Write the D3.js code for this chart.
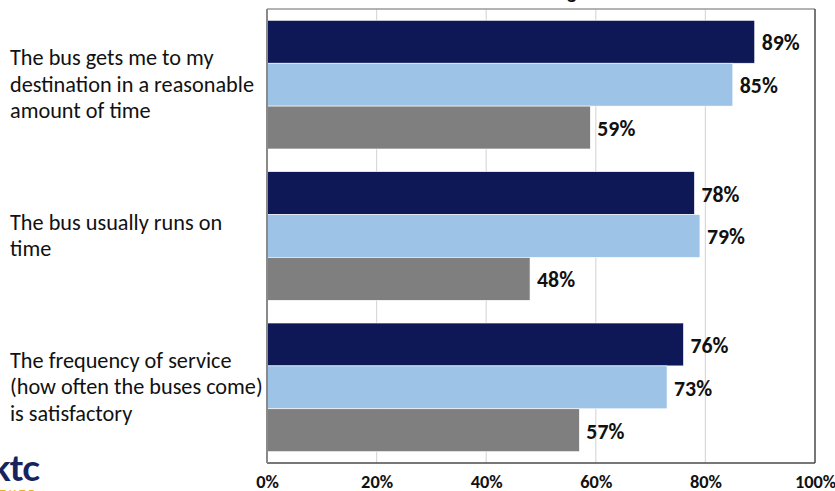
<!DOCTYPE html>
<html>
<head>
<meta charset="utf-8">
<script src="https://cdn.jsdelivr.net/npm/d3@7"></script>
<style>
  html, body { margin: 0; padding: 0; background: #fff; overflow: hidden; }
  svg { display: block; }
</style>
</head>
<body>
<svg id="chart" width="835" height="491"></svg>
<script>
// ---- data ----
const categories = [
  "The bus gets me to my destination in a reasonable amount of time",
  "The bus usually runs on time",
  "The frequency of service (how often the buses come) is satisfactory"
];
const categoryLines = [
  ["The bus gets me to my", "destination in a reasonable", "amount of time"],
  ["The bus usually runs on", "time"],
  ["The frequency of service", "(how often the buses come)", "is satisfactory"]
];
const seriesNames = ["Group A", "Group B", "Group C"];
const seriesA = [89, 78, 76];
const seriesB = [85, 79, 73];
const seriesC = [59, 48, 57];
const tickValues = [0, 20, 40, 60, 80, 100];
const titleText = "Rider Agreement";

// ---- layout / style ----
const W = 835, H = 491;
const plot = { left: 267, right: 815, top: 9, bottom: 463 };
const colors = ["#0E1857", "#9DC3E6", "#7F7F7F"];
const FONT = "Carlito, Lato, 'Open Sans', sans-serif";

const svg = d3.select("#chart");
const seriesValues = [seriesA, seriesB, seriesC];

const x = d3.scaleLinear().domain([0, 100]).range([plot.left, plot.right]);
const y = d3.scaleBand().domain(categories).range([plot.top, plot.bottom])
  .paddingInner(0.15).paddingOuter(0.075);
const ys = d3.scaleBand().domain(seriesNames).range([0, y.bandwidth()]).padding(0);

// gridlines
svg.append("g").selectAll("line").data(tickValues.filter(t => t > 0 && t < 100)).join("line")
  .attr("x1", d => x(d)).attr("x2", d => x(d))
  .attr("y1", plot.top).attr("y2", plot.bottom)
  .attr("stroke", "#d9d9d9").attr("stroke-width", 1.2);

// bars
const groups = svg.append("g").selectAll("g").data(categories).join("g")
  .attr("transform", d => `translate(0,${y(d)})`);

groups.each(function(cat, ci) {
  const g = d3.select(this);
  const rows = seriesNames.map((s, si) => ({ s, si, v: seriesValues[si][ci] }));
  g.selectAll("rect").data(rows).join("rect")
    .attr("x", x(0))
    .attr("y", d => ys(d.s))
    .attr("width", d => x(d.v) - x(0))
    .attr("height", ys.bandwidth())
    .attr("fill", d => colors[d.si])
    .attr("stroke", "#ffffff").attr("stroke-width", 0.6);
  g.selectAll("text.val").data(rows).join("text")
    .attr("class", "val")
    .attr("x", d => x(d.v) + 7)
    .attr("y", d => ys(d.s) + ys.bandwidth() / 2 + 1)
    .attr("dominant-baseline", "central")
    .attr("font-family", FONT).attr("font-weight", "bold")
    .attr("font-size", 19).attr("fill", "#111")
    .text(d => d.v + "%");
});

// plot border
svg.append("line").attr("x1", plot.left).attr("x2", plot.right).attr("y1", plot.top).attr("y2", plot.top)
  .attr("stroke", "#9a9a9a").attr("stroke-width", 1.5);
svg.append("line").attr("x1", plot.right).attr("x2", plot.right).attr("y1", plot.top).attr("y2", plot.bottom)
  .attr("stroke", "#4a4a4a").attr("stroke-width", 1.5);
svg.append("line").attr("x1", plot.left).attr("x2", plot.right).attr("y1", plot.bottom).attr("y2", plot.bottom)
  .attr("stroke", "#4a4a4a").attr("stroke-width", 1.5);
svg.append("line").attr("x1", plot.left).attr("x2", plot.left).attr("y1", plot.top).attr("y2", plot.bottom)
  .attr("stroke", "#8a8a8a").attr("stroke-width", 2);

// x axis tick labels
const xAxis = d3.axisBottom(x).tickValues(tickValues).tickFormat(d => d + "%").tickSize(0).tickPadding(0);
const ax = svg.append("g").attr("transform", `translate(0,${plot.bottom})`).call(xAxis);
ax.select(".domain").remove();
ax.selectAll("text")
  .attr("y", 24.5).attr("dy", null)
  .attr("font-family", FONT).attr("font-weight", "bold")
  .attr("font-size", 17).attr("fill", "#111");

// category labels
const catG = svg.append("g");
const lineH = 26.3;
categories.forEach((c, ci) => {
  const lines = categoryLines[ci];
  const cy = y(c) + y.bandwidth() / 2;
  const firstBase = cy + 7 - (lines.length - 1) / 2 * lineH;
  const t = catG.append("text")
    .attr("font-family", FONT).attr("font-size", 20).attr("fill", "#111");
  lines.forEach((ln, li) => {
    t.append("tspan").attr("x", 10).attr("y", firstBase + li * lineH).text(ln);
  });
});

// fit label fonts so that reference text widths match
(function fit() {
  const probe = svg.append("text").attr("font-family", FONT).attr("font-size", 20)
    .text("destination in a reasonable");
  const w = probe.node().getComputedTextLength();
  probe.remove();
  catG.selectAll("text").attr("font-size", (20 * 244 / w).toFixed(2));

  const p2 = svg.append("text").attr("font-family", FONT).attr("font-weight", "bold").attr("font-size", 19).text("89%");
  const w2 = p2.node().getComputedTextLength();
  p2.remove();
  svg.selectAll("text.val").attr("font-size", (19 * 38 / w2).toFixed(2));

  const p3 = svg.append("text").attr("font-family", FONT).attr("font-weight", "bold").attr("font-size", 17).text("60%");
  const w3 = p3.node().getComputedTextLength();
  p3.remove();
  ax.selectAll("text").attr("font-size", (17 * 32 / w3).toFixed(2));
})();

// title (mostly above the visible area)
const title = svg.append("text")
  .attr("font-family", FONT).attr("font-weight", "bold").attr("font-size", 20)
  .attr("fill", "#111").attr("x", 0).attr("y", -1).text(titleText);
const gIdx = titleText.indexOf("g");
const gPos = title.node().getStartPositionOfChar(gIdx).x;
title.attr("x", 567 - gPos);

// partial logo at bottom-left
svg.append("text").attr("x", 39).attr("y", 481).attr("text-anchor", "end")
  .attr("font-family", "Lato, 'Open Sans', sans-serif").attr("font-weight", "bold")
  .attr("font-size", 37).attr("letter-spacing", -1).attr("fill", "#16235e").text("ktc");
svg.append("text").attr("x", 37).attr("y", 497).attr("text-anchor", "end")
  .attr("font-family", "Lato, 'Open Sans', sans-serif").attr("font-weight", "bold")
  .attr("font-size", 10).attr("letter-spacing", 3).attr("fill", "#e8b416").text("INSTITUTE");
</script>
</body>
</html>
